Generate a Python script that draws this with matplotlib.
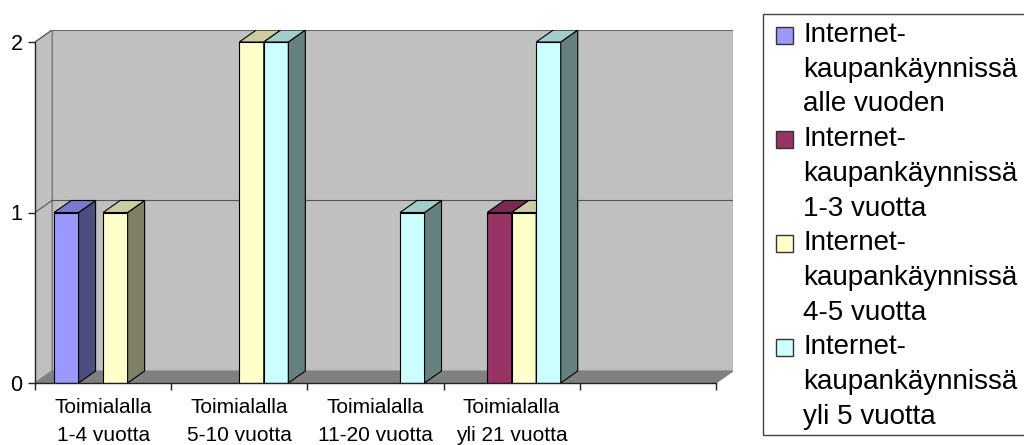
import matplotlib
matplotlib.use("Agg")
import matplotlib.pyplot as plt
from matplotlib.patches import Polygon, Rectangle

plt.rcParams['font.family'] = ['Liberation Sans', 'DejaVu Sans']

# Categories (the fifth slot is an empty category)
categories = ["Toimialalla\n1-4 vuotta", "Toimialalla\n5-10 vuotta",
              "Toimialalla\n11-20 vuotta", "Toimialalla\nyli 21 vuotta", ""]
series_names = ["Internet-\nkaupankäynnissä\nalle vuoden",
                "Internet-\nkaupankäynnissä\n1-3 vuotta",
                "Internet-\nkaupankäynnissä\n4-5 vuotta",
                "Internet-\nkaupankäynnissä\nyli 5 vuotta"]
alle_vuoden = [1, 0, 0, 0, 0]
v1_3 = [0, 0, 0, 1, 0]
v4_5 = [1, 2, 0, 1, 0]
yli_5 = [0, 2, 1, 2, 0]
series_values = [alle_vuoden, v1_3, v4_5, yli_5]
y_ticks = [0, 1, 2]

# face colours: front, side, top
front_cols = ["#9999FF", "#993366", "#FFFFCC", "#CCFFFF"]
side_cols = ["#4D4D80", "#4D1A33", "#808066", "#668080"]
top_cols = ["#7A7ACC", "#7A2952", "#CCCCA3", "#A3CCCC"]

W, H, DPI = 1024, 445, 100
fig = plt.figure(figsize=(W / DPI, H / DPI), dpi=DPI)

ncat = len(categories)
px_cat = (716 - 35) / ncat          # pixels per category
px_val = (383 - 42) / 2.0           # pixels per unit
dx = 17 / px_cat                    # depth offset in x data units
dy = 12 / px_val                    # depth offset in y data units
ymax = 2

ax = fig.add_axes([35 / W, (H - 383) / H,
                   (ncat + dx) * px_cat / W, (ymax + dy) * px_val / H])
ax.set_xlim(0, ncat + dx)
ax.set_ylim(0, ymax + dy)
ax.set_facecolor("none")

wall = "#C0C0C0"
floor = "#808080"
edge = "#808080"
lw = 0.8

# back wall
ax.add_patch(Rectangle((dx, dy), ncat, ymax, facecolor=wall, edgecolor=edge,
                       lw=lw, zorder=1))
# left wall
ax.add_patch(Polygon([(0, 0), (0, ymax), (dx, ymax + dy), (dx, dy)],
                     closed=True, facecolor=wall, edgecolor=edge, lw=lw, zorder=1))
# floor
ax.add_patch(Polygon([(0, 0), (ncat, 0), (ncat + dx, dy), (dx, dy)],
                     closed=True, facecolor=floor, edgecolor=edge, lw=lw, zorder=1))
# gridlines on back and left walls
for v in y_ticks[1:]:
    ax.plot([0, dx, ncat + dx], [v, v + dy, v + dy], color="#555555", lw=lw,
            zorder=2, solid_capstyle="butt")

# bars
nser = len(series_values)
gap = 0.14
bw = (1 - 2 * gap) / nser
for i in range(ncat):
    for j in range(nser):
        h = series_values[j][i]
        if h <= 0:
            continue
        x0 = i + gap + j * bw
        x1 = x0 + bw
        kw = dict(closed=True, edgecolor="black", lw=lw, zorder=3 + i * nser + j)
        ax.add_patch(Polygon([(x0, 0), (x1, 0), (x1, h), (x0, h)],
                             facecolor=front_cols[j], **kw))
        ax.add_patch(Polygon([(x1, 0), (x1 + dx, dy), (x1 + dx, h + dy), (x1, h)],
                             facecolor=side_cols[j], **kw))
        ax.add_patch(Polygon([(x0, h), (x1, h), (x1 + dx, h + dy), (x0 + dx, h + dy)],
                             facecolor=top_cols[j], **kw))

# axes
for s in ["top", "right"]:
    ax.spines[s].set_visible(False)
ax.spines["left"].set_bounds(0, ymax)
ax.spines["bottom"].set_bounds(0, ncat)
for s in ["left", "bottom"]:
    ax.spines[s].set_linewidth(1.0)
    ax.spines[s].set_color("#222222")
    ax.spines[s].set_zorder(50)

ax.set_yticks(y_ticks)
ax.set_yticklabels([str(t) for t in y_ticks], fontsize=15.5)
ax.tick_params(axis="y", length=5, width=1.0, pad=4, color="#222222")

ax.set_xticks(range(ncat + 1))
ax.set_xticklabels([""] * (ncat + 1))
ax.set_xticks([i + 0.5 for i in range(ncat)], minor=True)
ax.set_xticklabels(categories, minor=True, fontsize=15, linespacing=1.6)
ax.tick_params(axis="x", which="major", length=5, width=1.0, color="#222222")
ax.tick_params(axis="x", which="minor", length=0, pad=11)

# legend
lax = fig.add_axes([0, 0, 1, 1], facecolor="none")
lax.set_xlim(0, W)
lax.set_ylim(H, 0)
lax.axis("off")
lax.add_patch(Rectangle((763, 14), 300, 421, facecolor="white",
                        edgecolor="#444444", lw=1.0, clip_on=False))
line_h = 34.7
y0 = 35
for k, name in enumerate(series_names):
    yc = y0 + k * 3 * line_h
    lax.add_patch(Rectangle((776, yc - 8.5), 17, 17, facecolor=front_cols[k],
                            edgecolor="#333333", lw=1.0))
    for m, line in enumerate(name.split("\n")):
        lax.text(803, yc + m * line_h, line, fontsize=20, va="center",
                 ha="left", color="black")

fig.savefig("out.png", dpi=DPI)
